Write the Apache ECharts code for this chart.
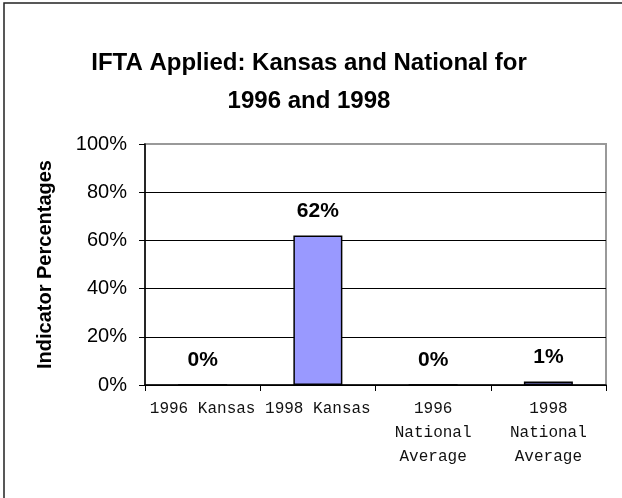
<!DOCTYPE html>
<html><head><meta charset="utf-8">
<script src="https://cdn.jsdelivr.net/npm/echarts@6/dist/echarts.min.js"></script>
<style>html,body{margin:0;padding:0;background:#fff}#c{width:622px;height:498px}</style>
</head><body><div id="c"></div>
<script>
const titleText = 'IFTA Applied: Kansas and National for\n1996 and 1998';
const yAxisTitle = 'Indicator Percentages';
const categories = ['1996 Kansas', '1998 Kansas', '1996\nNational\nAverage', '1998\nNational\nAverage'];
const values = [0, 62, 0, 1.5];
const valueLabels = ['0%', '62%', '0%', '1%'];
const yTicks = [0, 20, 40, 60, 80, 100];

const chart = echarts.init(document.getElementById('c'));
chart.setOption({
  animation: false,
  backgroundColor: '#fff',
  title: {
    text: titleText,
    left: 304, top: 39, textAlign: 'center',
    textStyle: {fontFamily: 'Liberation Sans, Arial', fontWeight: 'bold', fontSize: 24, lineHeight: 38, color: '#000'}
  },
  graphic: [{
    type: 'rect', shape: {x: 4, y: 3, width: 700, height: 600}, silent: true,
    style: {fill: 'none', stroke: '#222', lineWidth: 1.5}
  }],
  grid: {left: 145, right: 16, top: 144, bottom: 113, show: true, borderColor: '#999', borderWidth: 2, backgroundColor: 'transparent'},
  xAxis: {
    type: 'category', data: categories,
    axisLine: {lineStyle: {color: '#000', width: 1.5}},
    axisTick: {show: true, length: 6, lineStyle: {color: '#000'}},
    axisLabel: {interval: 0, margin: 12, fontFamily: 'Liberation Mono, Courier New', fontSize: 16, lineHeight: 24, color: '#111'}
  },
  yAxis: {
    type: 'value', min: yTicks[0], max: yTicks[yTicks.length-1], interval: 20,
    name: yAxisTitle, nameLocation: 'middle', nameGap: 90, nameRotate: 90,
    nameTextStyle: {fontFamily: 'Liberation Sans, Arial', fontWeight: 'bold', fontSize: 20, color: '#000'},
    axisLine: {show: true, lineStyle: {color: '#000', width: 1.5}},
    axisTick: {show: true, length: 6, lineStyle: {color: '#000'}},
    axisLabel: {margin: 18, formatter: v => v + '%', fontFamily: 'Liberation Sans, Arial', fontSize: 20, color: '#000'},
    splitLine: {show: true, lineStyle: {color: ['#000','#000','#000','#000','#000','#999'], width: 1}}
  },
  series: [{
    type: 'bar', data: values, barWidth: 49,
    itemStyle: {color: '#9999FF', borderColor: '#000', borderWidth: 1.5},
    label: {show: true, position: 'top', distance: 14,
      formatter: p => valueLabels[p.dataIndex],
      fontFamily: 'Liberation Sans, Arial', fontWeight: 'bold', fontSize: 21, color: '#000'}
  }]
});
</script></body></html>
